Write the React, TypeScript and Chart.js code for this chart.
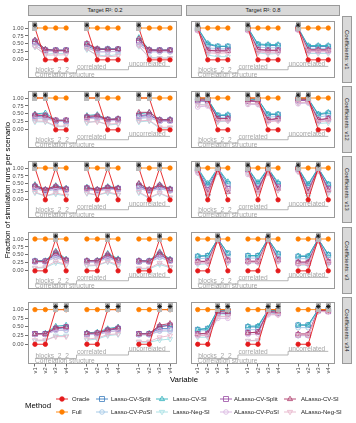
import React, { useEffect, useRef } from 'react';
import { Chart, registerables } from 'chart.js';

Chart.register(...registerables);

// ---------------- data ----------------
const VARIABLES = ['v1', 'v2', 'v3', 'v4'];
const STRUCTURES = ['blocks_2_2', 'correlated', 'uncorrelated'];
const STRUCTURE_CAPTION = 'Correlation structure';
const TARGET_R2 = ['0.2', '0.8'];
const COEF_SETS = ['v1', 'v12', 'v13', 'v3', 'v34'];
const METHODS = [
  'Oracle', 'Full', 'Lasso-CV-Split', 'Lasso-CV-PoSI', 'Lasso-CV-SI', 'Lasso-Neg-SI',
  'ALasso-CV-Split', 'ALasso-CV-PoSI', 'ALasso-CV-SI', 'ALasso-Neg-SI',
];
const Y_TICKS = [0, 0.25, 0.5, 0.75, 1];

// Oracle (true model) per coefficient set: blocks_2_2 | correlated | uncorrelated
const ORACLE_V1 = [1, 0, 0, 0, 1, 0, 0, 0, 1, 0, 0, 0];
const ORACLE_V12 = [1, 1, 0, 0, 1, 1, 0, 0, 1, 1, 0, 0];
const ORACLE_V13 = [1, 0, 1, 0, 1, 0, 1, 0, 1, 0, 1, 0];
const ORACLE_V3 = [0, 0, 1, 0, 0, 0, 1, 0, 0, 0, 1, 0];
const ORACLE_V34 = [0, 0, 1, 1, 0, 0, 1, 1, 0, 0, 1, 1];
const FULL = [1, 1, 1, 1, 1, 1, 1, 1, 1, 1, 1, 1];
const TRUE_MARK_LEVEL = 1.09;
const TRUE_BOX_LEVEL = 1.05;

// rows: Lasso-CV-Split, Lasso-CV-PoSI, Lasso-CV-SI, Lasso-Neg-SI,
//       ALasso-CV-Split, ALasso-CV-PoSI, ALasso-CV-SI, ALasso-Neg-SI
const R02_V1 = [
  [0.55, 0.30, 0.30, 0.30, 0.42, 0.32, 0.33, 0.33, 0.55, 0.30, 0.30, 0.30],
  [0.45, 0.28, 0.28, 0.28, 0.38, 0.25, 0.25, 0.28, 0.48, 0.25, 0.25, 0.25],
  [0.62, 0.33, 0.30, 0.30, 0.48, 0.35, 0.35, 0.34, 0.70, 0.32, 0.31, 0.31],
  [0.40, 0.18, 0.20, 0.20, 0.32, 0.15, 0.12, 0.17, 0.42, 0.08, 0.06, 0.06],
  [0.58, 0.30, 0.30, 0.30, 0.50, 0.33, 0.33, 0.33, 0.60, 0.30, 0.30, 0.30],
  [0.45, 0.28, 0.27, 0.27, 0.40, 0.25, 0.26, 0.26, 0.47, 0.26, 0.26, 0.26],
  [0.62, 0.33, 0.30, 0.30, 0.52, 0.35, 0.33, 0.34, 0.66, 0.32, 0.30, 0.31],
  [0.42, 0.15, 0.15, 0.16, 0.35, 0.12, 0.10, 0.12, 0.45, 0.05, 0.05, 0.05],
];
const R02_V12 = [
  [0.42, 0.40, 0.28, 0.28, 0.38, 0.40, 0.32, 0.33, 0.42, 0.45, 0.30, 0.30],
  [0.35, 0.35, 0.27, 0.27, 0.35, 0.37, 0.28, 0.30, 0.36, 0.38, 0.26, 0.27],
  [0.50, 0.53, 0.30, 0.30, 0.45, 0.48, 0.33, 0.35, 0.50, 0.55, 0.32, 0.33],
  [0.25, 0.25, 0.10, 0.10, 0.22, 0.28, 0.15, 0.18, 0.25, 0.28, 0.05, 0.06],
  [0.45, 0.45, 0.30, 0.30, 0.40, 0.42, 0.32, 0.33, 0.45, 0.48, 0.30, 0.30],
  [0.38, 0.38, 0.28, 0.28, 0.35, 0.38, 0.28, 0.30, 0.38, 0.40, 0.27, 0.27],
  [0.48, 0.45, 0.30, 0.30, 0.42, 0.45, 0.33, 0.35, 0.55, 0.55, 0.32, 0.32],
  [0.28, 0.27, 0.12, 0.12, 0.25, 0.25, 0.18, 0.20, 0.28, 0.30, 0.08, 0.08],
];
const R02_V13 = [
  [0.40, 0.30, 0.38, 0.33, 0.35, 0.30, 0.36, 0.35, 0.42, 0.30, 0.40, 0.32],
  [0.35, 0.27, 0.33, 0.30, 0.32, 0.28, 0.33, 0.32, 0.36, 0.27, 0.35, 0.28],
  [0.48, 0.32, 0.45, 0.37, 0.40, 0.33, 0.42, 0.38, 0.50, 0.32, 0.48, 0.35],
  [0.22, 0.12, 0.18, 0.12, 0.20, 0.15, 0.22, 0.15, 0.22, 0.05, 0.20, 0.06],
  [0.42, 0.30, 0.40, 0.33, 0.37, 0.30, 0.38, 0.35, 0.45, 0.30, 0.43, 0.32],
  [0.36, 0.27, 0.35, 0.30, 0.33, 0.28, 0.34, 0.32, 0.38, 0.27, 0.37, 0.29],
  [0.45, 0.33, 0.43, 0.35, 0.38, 0.33, 0.40, 0.37, 0.52, 0.33, 0.47, 0.34],
  [0.25, 0.12, 0.22, 0.14, 0.22, 0.15, 0.25, 0.17, 0.25, 0.07, 0.22, 0.08],
];
const R02_V3 = [
  [0.30, 0.30, 0.50, 0.32, 0.30, 0.30, 0.45, 0.33, 0.30, 0.30, 0.50, 0.33],
  [0.28, 0.28, 0.42, 0.30, 0.27, 0.28, 0.40, 0.30, 0.27, 0.27, 0.42, 0.30],
  [0.32, 0.32, 0.62, 0.37, 0.32, 0.33, 0.55, 0.38, 0.32, 0.32, 0.60, 0.37],
  [0.08, 0.10, 0.25, 0.18, 0.15, 0.17, 0.28, 0.15, 0.06, 0.06, 0.20, 0.10],
  [0.30, 0.30, 0.55, 0.33, 0.30, 0.30, 0.48, 0.33, 0.30, 0.30, 0.52, 0.33],
  [0.28, 0.28, 0.45, 0.30, 0.28, 0.28, 0.42, 0.30, 0.28, 0.28, 0.45, 0.30],
  [0.30, 0.30, 0.58, 0.35, 0.32, 0.32, 0.52, 0.35, 0.32, 0.30, 0.57, 0.35],
  [0.10, 0.12, 0.30, 0.20, 0.18, 0.18, 0.30, 0.20, 0.08, 0.08, 0.25, 0.12],
];
const R02_V34 = [
  [0.30, 0.30, 0.45, 0.48, 0.30, 0.30, 0.40, 0.45, 0.30, 0.30, 0.45, 0.45],
  [0.28, 0.28, 0.40, 0.40, 0.28, 0.28, 0.35, 0.40, 0.27, 0.27, 0.38, 0.38],
  [0.30, 0.32, 0.52, 0.55, 0.33, 0.35, 0.45, 0.50, 0.30, 0.32, 0.52, 0.55],
  [0.10, 0.10, 0.25, 0.25, 0.12, 0.15, 0.25, 0.28, 0.06, 0.06, 0.12, 0.15],
  [0.30, 0.30, 0.45, 0.50, 0.30, 0.32, 0.40, 0.45, 0.30, 0.30, 0.50, 0.55],
  [0.28, 0.28, 0.40, 0.42, 0.28, 0.30, 0.35, 0.40, 0.28, 0.28, 0.40, 0.42],
  [0.30, 0.30, 0.48, 0.50, 0.32, 0.33, 0.42, 0.48, 0.30, 0.30, 0.55, 0.60],
  [0.12, 0.12, 0.22, 0.22, 0.15, 0.18, 0.28, 0.30, 0.08, 0.08, 0.20, 0.25],
];
const R08_V1 = [
  [1.00, 0.48, 0.42, 0.42, 1.00, 0.48, 0.45, 0.45, 1.00, 0.42, 0.42, 0.42],
  [0.98, 0.38, 0.35, 0.35, 0.98, 0.40, 0.38, 0.38, 0.98, 0.36, 0.36, 0.36],
  [1.00, 0.52, 0.43, 0.43, 1.00, 0.50, 0.48, 0.48, 1.00, 0.45, 0.45, 0.45],
  [0.95, 0.15, 0.10, 0.10, 0.95, 0.22, 0.18, 0.20, 0.95, 0.20, 0.20, 0.20],
  [0.95, 0.30, 0.30, 0.30, 0.95, 0.32, 0.30, 0.30, 0.97, 0.30, 0.30, 0.30],
  [0.92, 0.25, 0.25, 0.25, 0.92, 0.26, 0.25, 0.25, 0.93, 0.25, 0.25, 0.25],
  [0.97, 0.30, 0.28, 0.28, 0.97, 0.32, 0.30, 0.30, 0.98, 0.32, 0.32, 0.32],
  [0.92, 0.22, 0.20, 0.22, 0.92, 0.25, 0.22, 0.22, 0.93, 0.27, 0.27, 0.27],
];
const R08_V12 = [
  [0.98, 0.95, 0.45, 0.45, 0.97, 0.95, 0.48, 0.48, 0.98, 0.97, 0.48, 0.52],
  [0.90, 0.88, 0.38, 0.40, 0.92, 0.90, 0.40, 0.42, 0.93, 0.93, 0.40, 0.45],
  [1.00, 0.97, 0.46, 0.48, 0.98, 0.96, 0.50, 0.50, 0.99, 0.98, 0.50, 0.55],
  [0.80, 0.78, 0.25, 0.28, 0.82, 0.80, 0.30, 0.32, 0.85, 0.85, 0.20, 0.22],
  [0.92, 0.90, 0.35, 0.35, 0.90, 0.88, 0.30, 0.35, 0.92, 0.92, 0.30, 0.35],
  [0.72, 0.75, 0.30, 0.30, 0.80, 0.80, 0.28, 0.30, 0.82, 0.85, 0.28, 0.32],
  [0.95, 0.93, 0.35, 0.36, 0.93, 0.90, 0.32, 0.36, 0.95, 0.95, 0.32, 0.36],
  [0.78, 0.78, 0.28, 0.28, 0.82, 0.82, 0.25, 0.28, 0.85, 0.87, 0.25, 0.28],
];
const R08_V13 = [
  [0.98, 0.45, 0.98, 0.50, 0.98, 0.50, 0.98, 0.50, 0.99, 0.45, 0.99, 0.48],
  [0.92, 0.38, 0.93, 0.42, 0.92, 0.42, 0.93, 0.45, 0.95, 0.38, 0.96, 0.40],
  [1.00, 0.52, 1.00, 0.57, 0.99, 0.55, 0.99, 0.55, 1.00, 0.50, 1.00, 0.50],
  [0.85, 0.10, 0.88, 0.25, 0.85, 0.25, 0.88, 0.30, 0.90, 0.10, 0.92, 0.20],
  [0.95, 0.31, 0.95, 0.35, 0.95, 0.35, 0.95, 0.40, 0.97, 0.30, 0.97, 0.35],
  [0.85, 0.28, 0.88, 0.30, 0.80, 0.30, 0.85, 0.35, 0.90, 0.28, 0.92, 0.30],
  [0.97, 0.20, 0.97, 0.25, 0.97, 0.30, 0.97, 0.35, 0.98, 0.25, 0.98, 0.30],
  [0.85, 0.18, 0.87, 0.28, 0.82, 0.25, 0.85, 0.30, 0.88, 0.20, 0.90, 0.25],
];
const R08_V3 = [
  [0.45, 0.47, 1.00, 0.55, 0.47, 0.47, 1.00, 0.53, 0.45, 0.45, 1.00, 0.50],
  [0.38, 0.40, 0.97, 0.45, 0.40, 0.40, 0.97, 0.45, 0.38, 0.38, 0.98, 0.42],
  [0.47, 0.48, 1.00, 0.55, 0.48, 0.48, 1.00, 0.55, 0.47, 0.47, 1.00, 0.52],
  [0.20, 0.22, 0.95, 0.25, 0.25, 0.25, 0.95, 0.30, 0.18, 0.18, 0.95, 0.20],
  [0.28, 0.30, 0.98, 0.33, 0.30, 0.30, 0.98, 0.35, 0.25, 0.25, 0.98, 0.28],
  [0.25, 0.25, 0.95, 0.30, 0.27, 0.27, 0.95, 0.30, 0.22, 0.22, 0.95, 0.25],
  [0.30, 0.30, 0.99, 0.35, 0.30, 0.30, 0.99, 0.35, 0.28, 0.28, 0.99, 0.30],
  [0.25, 0.25, 0.95, 0.28, 0.27, 0.27, 0.95, 0.30, 0.20, 0.20, 0.95, 0.25],
];
const R08_V34 = [
  [0.42, 0.45, 0.98, 0.97, 0.50, 0.50, 0.98, 0.97, 0.55, 0.55, 1.00, 1.00],
  [0.38, 0.40, 0.92, 0.92, 0.42, 0.42, 0.95, 0.93, 0.48, 0.48, 0.98, 0.98],
  [0.43, 0.46, 1.00, 0.98, 0.52, 0.53, 0.99, 0.98, 0.56, 0.56, 1.00, 1.00],
  [0.20, 0.20, 0.85, 0.85, 0.10, 0.10, 0.90, 0.88, 0.25, 0.25, 0.95, 0.95],
  [0.30, 0.30, 0.90, 0.88, 0.33, 0.35, 0.92, 0.90, 0.27, 0.27, 0.97, 0.95],
  [0.25, 0.25, 0.75, 0.75, 0.28, 0.30, 0.85, 0.85, 0.25, 0.25, 0.95, 0.95],
  [0.30, 0.32, 0.95, 0.93, 0.33, 0.35, 0.95, 0.93, 0.30, 0.30, 0.98, 0.97],
  [0.25, 0.25, 0.80, 0.80, 0.10, 0.12, 0.88, 0.85, 0.27, 0.27, 0.95, 0.93],
];

const ORACLE_BY_SET = [ORACLE_V1, ORACLE_V12, ORACLE_V13, ORACLE_V3, ORACLE_V34];
const PANEL_VALUES = [
  [R02_V1, R02_V12, R02_V13, R02_V3, R02_V34],
  [R08_V1, R08_V12, R08_V13, R08_V3, R08_V34],
];

// ---------------- styles / layout ----------------
const FONT = '"Liberation Sans", Arial, Helvetica, sans-serif';
const METHOD_COLORS = ['#E41A1C', '#FF7F00', '#3F7FBF', '#9CC4E4', '#2AAFBA', '#A4DFE3', '#9A4EA5', '#D7B3DF', '#AE3A69', '#E7B3C9'];
const METHOD_SHAPES = ['circle', 'circle', 'rect', 'circle', 'triangle', 'triangleDown', 'rect', 'circle', 'triangle', 'triangleDown'];
const METHOD_FILLED = [true, true, false, false, false, false, false, false, false, false];

const GROUP_STRIDE = 5;
const X_MIN = -0.67;
const X_MAX = 13.67;
const Y_MIN = -0.57;
const Y_MAX = 1.22;
const STEP_X = [0, 4, 9, 13];
const STEP_LEVELS = [-0.41, -0.31, -0.205];
const CAPTION_LEVEL = -0.545;

const PANEL_X = [28, 186];
const PANEL_W = 154;
const ROW_Y = [16, 86, 156, 227, 297];
const PANEL_H = 67;
const Y_AXIS_W = 28;
const X_AXIS_H = 14;
const BORDER = '#9a9a9a';

const xPos = (i: number) => Math.floor(i / 4) * GROUP_STRIDE + (i % 4);

function series(values: number[]) {
  const pts: { x: number; y: number | null }[] = [];
  values.forEach((v, i) => {
    if (i % 4 === 0 && i > 0) pts.push({ x: xPos(i) - 1, y: null });
    pts.push({ x: xPos(i), y: v });
  });
  return pts;
}

let boxImg: HTMLCanvasElement | null = null;
function getBoxImg() {
  if (!boxImg) {
    boxImg = document.createElement('canvas');
    boxImg.width = 5;
    boxImg.height = 9;
    const c = boxImg.getContext('2d')!;
    c.fillStyle = '#b9b9b9';
    c.fillRect(0, 0, 5, 9);
  }
  return boxImg;
}

const structurePlugin = {
  id: 'structureAnno',
  beforeDatasetsDraw(chart: any) {
    const { ctx, scales } = chart;
    const x = scales.x;
    const y = scales.y;
    ctx.save();
    ctx.strokeStyle = '#a3a3a3';
    ctx.lineWidth = 0.8;
    ctx.beginPath();
    for (let i = 0; i < STEP_LEVELS.length; i++) {
      const yy = y.getPixelForValue(STEP_LEVELS[i]);
      const x0 = x.getPixelForValue(STEP_X[i]);
      const x1 = x.getPixelForValue(STEP_X[i + 1]);
      if (i === 0) ctx.moveTo(x0, yy);
      else ctx.lineTo(x0, yy);
      ctx.lineTo(x1, yy);
    }
    ctx.stroke();
    ctx.fillStyle = '#a6a6a6';
    ctx.font = `6.6px ${FONT}`;
    ctx.textAlign = 'left';
    ctx.textBaseline = 'alphabetic';
    STRUCTURES.forEach((s, i) => {
      ctx.fillText(s, x.getPixelForValue(STEP_X[i]) + 0.5, y.getPixelForValue(STEP_LEVELS[i]) - 0.6);
    });
    ctx.fillText(STRUCTURE_CAPTION, x.getPixelForValue(STEP_X[0]), y.getPixelForValue(CAPTION_LEVEL));
    ctx.restore();
  },
};

const borderPlugin = {
  id: 'panelBorder',
  afterDraw(chart: any) {
    const { ctx, chartArea: a } = chart;
    ctx.save();
    ctx.strokeStyle = BORDER;
    ctx.lineWidth = 1;
    ctx.strokeRect(a.left + 0.5, a.top + 0.5, a.right - a.left - 1, a.bottom - a.top - 1);
    ctx.restore();
  },
};

function methodDataset(m: number, vals: number[]) {
  const shape = METHOD_SHAPES[m];
  const color = METHOD_COLORS[m];
  return {
    label: METHODS[m],
    data: series(vals),
    borderColor: color,
    backgroundColor: color,
    pointBackgroundColor: METHOD_FILLED[m] ? color : 'rgba(0,0,0,0)',
    pointBorderColor: color,
    pointStyle: shape === 'triangleDown' ? 'triangle' : shape,
    pointRotation: shape === 'triangleDown' ? 180 : 0,
    pointRadius: shape === 'rect' ? 3.3 : shape === 'circle' ? (METHOD_FILLED[m] ? 2.2 : 2.4) : 2.9,
    pointBorderWidth: 0.8,
    borderWidth: 0.9,
    spanGaps: false,
    fill: false,
    tension: 0,
  };
}

function Panel({ row, col }: { row: number; col: number }) {
  const ref = useRef<HTMLCanvasElement>(null);
  const showY = col === 0;
  const showX = row === COEF_SETS.length - 1;
  const left = showY ? PANEL_X[col] - Y_AXIS_W : PANEL_X[col];
  const width = PANEL_W + (showY ? Y_AXIS_W : 0);
  const height = PANEL_H + (showX ? X_AXIS_H : 0);

  useEffect(() => {
    const oracle = ORACLE_BY_SET[row];
    const values = PANEL_VALUES[col][row];
    const trueIdx = oracle.map((v, i) => (v === 1 ? i : -1)).filter((i) => i >= 0);
    const datasets: any[] = [];
    datasets.push({
      label: 'true',
      data: trueIdx.map((i) => ({ x: xPos(i), y: TRUE_MARK_LEVEL })),
      showLine: false,
      pointStyle: 'star',
      pointRadius: 2.3,
      pointBorderColor: '#111',
      pointBorderWidth: 0.9,
      pointBackgroundColor: '#111',
    });
    datasets.push({
      label: 'trueBox',
      data: trueIdx.map((i) => ({ x: xPos(i), y: TRUE_BOX_LEVEL })),
      showLine: false,
      pointStyle: getBoxImg(),
      pointRadius: 4,
    });
    datasets.push(methodDataset(1, FULL));
    datasets.push(methodDataset(0, oracle));
    for (let m = 9; m >= 2; m--) datasets.push(methodDataset(m, values[m - 2]));

    const xTickValues = [0, 1, 2].flatMap((g) => VARIABLES.map((_, j) => g * GROUP_STRIDE + j));

    const chart = new Chart(ref.current!, {
      type: 'line',
      data: { datasets },
      options: {
        animation: false,
        responsive: false,
        devicePixelRatio: 1,
        events: [],
        layout: { padding: 0 },
        plugins: { legend: { display: false }, tooltip: { enabled: false } },
        scales: {
          x: {
            type: 'linear',
            min: X_MIN,
            max: X_MAX,
            display: showX,
            border: { display: false },
            grid: { drawOnChartArea: false, tickLength: 2.5, color: '#333333', lineWidth: 0.7 },
            afterBuildTicks: (s: any) => {
              s.ticks = xTickValues.map((v) => ({ value: v }));
            },
            afterFit: (s: any) => {
              s.height = showX ? X_AXIS_H : 0;
              s.paddingLeft = 0;
              s.paddingRight = 0;
              s.paddingTop = 0;
              s.paddingBottom = 0;
            },
            ticks: {
              autoSkip: false,
              minRotation: 90,
              maxRotation: 90,
              padding: 1,
              color: '#4d4d4d',
              font: { size: 5.6, family: FONT },
              callback: (_v: any, i: number) => VARIABLES[i % 4],
            },
          },
          y: {
            type: 'linear',
            min: Y_MIN,
            max: Y_MAX,
            display: showY,
            border: { display: false },
            grid: { drawOnChartArea: false, tickLength: 3, color: '#333333', lineWidth: 0.7 },
            afterBuildTicks: (s: any) => {
              s.ticks = Y_TICKS.map((v) => ({ value: v }));
            },
            afterFit: (s: any) => {
              s.width = showY ? Y_AXIS_W : 0;
              s.paddingTop = 0;
              s.paddingBottom = 0;
              s.paddingLeft = 0;
              s.paddingRight = 0;
            },
            ticks: {
              padding: 1.5,
              color: '#4d4d4d',
              font: { size: 5.6, family: FONT },
              callback: (v: any) => Number(v).toFixed(2),
            },
          },
        },
      } as any,
      plugins: [structurePlugin, borderPlugin],
    });
    return () => chart.destroy();
  }, [row, col]);

  return (
    <canvas
      ref={ref}
      width={width}
      height={height}
      style={{ position: 'absolute', left, top: ROW_Y[row], width, height }}
    />
  );
}

function LegendKey({ m }: { m: number }) {
  const color = METHOD_COLORS[m];
  const shape = METHOD_SHAPES[m];
  const fill = METHOD_FILLED[m] ? color : 'none';
  let marker: any = null;
  if (shape === 'circle') marker = <circle cx={6} cy={4} r={2.3} fill={fill} stroke={color} strokeWidth={0.8} />;
  else if (shape === 'rect') marker = <rect x={3.6} y={1.6} width={4.8} height={4.8} fill="none" stroke={color} strokeWidth={0.8} />;
  else if (shape === 'triangle') marker = <polygon points="6,1.2 8.6,5.6 3.4,5.6" fill="none" stroke={color} strokeWidth={0.8} />;
  else marker = <polygon points="6,6.8 8.6,2.4 3.4,2.4" fill="none" stroke={color} strokeWidth={0.8} />;
  return (
    <svg width={12} height={8} style={{ position: 'absolute', left: -6, top: -4 }}>
      <line x1={0} y1={4} x2={12} y2={4} stroke={color} strokeWidth={0.9} />
      {marker}
    </svg>
  );
}

const LEGEND_COLUMNS = [[0, 1], [2, 3], [4, 5], [6, 7], [8, 9]];
const LEGEND_KEY_X = [62, 101.5, 161.5, 225.5, 290];
const LEGEND_LABEL_X = [72, 111, 173, 234, 301];
const LEGEND_ROW_Y = [399, 412];

export default function App() {
  const panels: any[] = [];
  for (let c = 0; c < TARGET_R2.length; c++)
    for (let r = 0; r < COEF_SETS.length; r++) panels.push(<Panel key={`${r}-${c}`} row={r} col={c} />);

  return (
    <div
      style={{
        position: 'absolute',
        left: 0,
        top: 0,
        width: 356,
        height: 423,
        background: '#fff',
        fontFamily: FONT,
        overflow: 'hidden',
      }}
    >
      {panels}
      {TARGET_R2.map((t, c) => (
        <div
          key={t}
          style={{
            position: 'absolute',
            left: PANEL_X[c],
            top: 4.5,
            width: PANEL_W,
            height: 11.5,
            boxSizing: 'border-box',
            background: '#d9d9d9',
            border: `1px solid ${BORDER}`,
            display: 'flex',
            alignItems: 'center',
            justifyContent: 'center',
            fontSize: 5.8,
            color: '#1a1a1a',
          }}
        >
          {`Target R²: ${t}`}
        </div>
      ))}
      {COEF_SETS.map((s, r) => (
        <div
          key={s}
          style={{
            position: 'absolute',
            left: 342,
            top: ROW_Y[r],
            width: 10,
            height: PANEL_H,
            boxSizing: 'border-box',
            background: '#d9d9d9',
            border: `1px solid ${BORDER}`,
            display: 'flex',
            alignItems: 'center',
            justifyContent: 'center',
            fontSize: 5.8,
            color: '#1a1a1a',
          }}
        >
          <span style={{ writingMode: 'vertical-rl', whiteSpace: 'nowrap' }}>{`Coefficients: ${s}`}</span>
        </div>
      ))}
      <div
        style={{
          position: 'absolute',
          left: 1,
          top: ROW_Y[0],
          width: 12,
          height: ROW_Y[4] + PANEL_H - ROW_Y[0],
          display: 'flex',
          alignItems: 'center',
          justifyContent: 'center',
          fontSize: 7.8,
          color: '#000',
        }}
      >
        <span style={{ writingMode: 'vertical-rl', transform: 'rotate(180deg)', whiteSpace: 'nowrap' }}>
          Fraction of simulation runs per scenario
        </span>
      </div>
      <div
        style={{
          position: 'absolute',
          left: PANEL_X[0],
          top: 375,
          width: PANEL_X[1] + PANEL_W - PANEL_X[0],
          textAlign: 'center',
          fontSize: 7.8,
          lineHeight: '10px',
          color: '#000',
        }}
      >
        Variable
      </div>
      <div style={{ position: 'absolute', left: 25, top: 401, fontSize: 7.8, lineHeight: '10px', color: '#000' }}>Method</div>
      {LEGEND_COLUMNS.map((col, ci) =>
        col.map((m, ri) => (
          <React.Fragment key={m}>
            <div style={{ position: 'absolute', left: LEGEND_KEY_X[ci], top: LEGEND_ROW_Y[ri], width: 0, height: 0 }}>
              <LegendKey m={m} />
            </div>
            <div
              style={{
                position: 'absolute',
                left: LEGEND_LABEL_X[ci],
                top: LEGEND_ROW_Y[ri] - 4,
                fontSize: 6,
                lineHeight: '8px',
                color: '#1a1a1a',
                whiteSpace: 'nowrap',
              }}
            >
              {METHODS[m]}
            </div>
          </React.Fragment>
        ))
      )}
    </div>
  );
}
